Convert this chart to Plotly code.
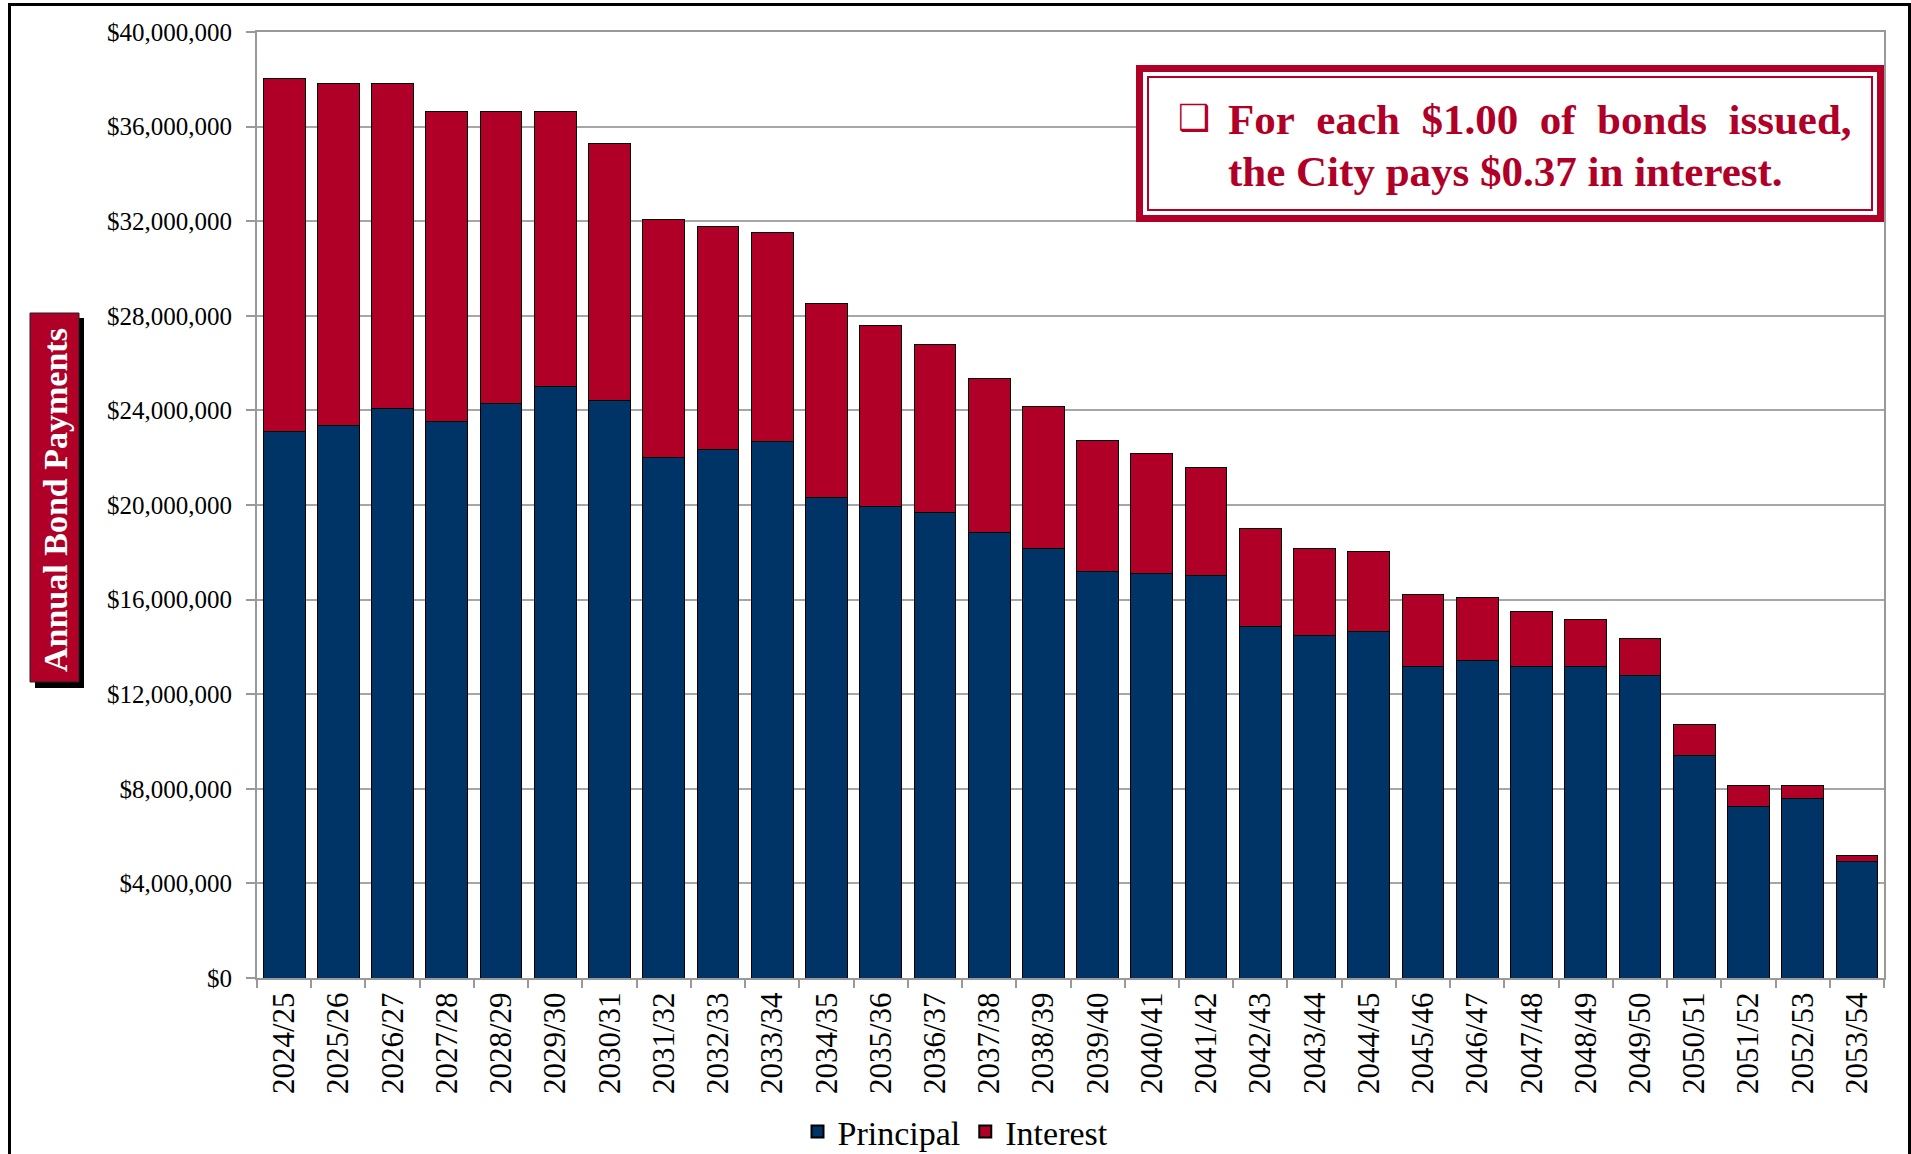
import plotly.graph_objects as go

# ---------------- data ----------------
fiscal_years = ["2024/25", "2025/26", "2026/27", "2027/28", "2028/29", "2029/30",
                "2030/31", "2031/32", "2032/33", "2033/34", "2034/35", "2035/36",
                "2036/37", "2037/38", "2038/39", "2039/40", "2040/41", "2041/42",
                "2042/43", "2043/44", "2044/45", "2045/46", "2046/47", "2047/48",
                "2048/49", "2049/50", "2050/51", "2051/52", "2052/53", "2053/54"]

principal = [23_120_000, 23_370_000, 24_060_000, 23_550_000, 24_280_000, 25_020_000,
             24_430_000, 22_020_000, 22_340_000, 22_680_000, 20_330_000, 19_940_000,
             19_700_000, 18_820_000, 18_180_000, 17_200_000, 17_110_000, 17_010_000,
             14_880_000, 14_470_000, 14_670_000, 13_180_000, 13_440_000, 13_180_000,
             13_180_000, 12_770_000, 9_420_000, 7_260_000, 7_570_000, 4_940_000]

interest = [14_920_000, 14_470_000, 13_780_000, 13_070_000, 12_340_000, 11_600_000,
            10_850_000, 10_060_000, 9_440_000, 8_830_000, 8_170_000, 7_630_000,
            7_080_000, 6_510_000, 5_990_000, 5_510_000, 5_060_000, 4_580_000,
            4_120_000, 3_700_000, 3_350_000, 3_040_000, 2_670_000, 2_320_000,
            1_960_000, 1_590_000, 1_290_000, 870_000, 560_000, 260_000]

y_ticks = [0, 4_000_000, 8_000_000, 12_000_000, 16_000_000, 20_000_000,
           24_000_000, 28_000_000, 32_000_000, 36_000_000, 40_000_000]

# ---------------- styling ----------------
W, H = 1911, 1154
PL, PR, PT, PB = 257, 1884, 32, 978          # plot area in pixels
NAVY = "#003366"
RED = "#B00028"
GRID = "#a6a6a6"
FONT = "Liberation Serif, Times New Roman, serif"


def px_x(px):
    return (px - PL) / (PR - PL)


def px_y(py):
    return (PB - py) / (PB - PT)


fig = go.Figure()
fig.add_trace(go.Bar(x=fiscal_years, y=principal, name="Principal",
                     marker=dict(color=NAVY, line=dict(color="#000000", width=1))))
fig.add_trace(go.Bar(x=fiscal_years, y=interest, name="Interest",
                     marker=dict(color=RED, line=dict(color="#000000", width=1))))

shapes = [
    # outer frame
    dict(type="rect", xref="paper", yref="paper",
         x0=px_x(9.5), x1=px_x(1909.5), y0=px_y(1200), y1=px_y(4.5),
         line=dict(color="#000000", width=3), fillcolor="rgba(0,0,0,0)", layer="below"),
    # y label shadow + box
    dict(type="rect", xref="paper", yref="paper",
         x0=px_x(35), x1=px_x(84), y0=px_y(688), y1=px_y(318),
         line=dict(width=0), fillcolor="#000000"),
    dict(type="rect", xref="paper", yref="paper",
         x0=px_x(30), x1=px_x(79), y0=px_y(682), y1=px_y(313),
         line=dict(color="#222222", width=1), fillcolor=RED),
    # callout box: white fill, thick outer border, thin inner border
    dict(type="rect", xref="paper", yref="paper",
         x0=px_x(1139.5), x1=px_x(1880.5), y0=px_y(218.5), y1=px_y(68.5),
         line=dict(color=RED, width=7), fillcolor="#ffffff"),
    dict(type="rect", xref="paper", yref="paper",
         x0=px_x(1148), x1=px_x(1872), y0=px_y(210), y1=px_y(77),
         line=dict(color=RED, width=2), fillcolor="rgba(0,0,0,0)"),
]

NB = "\u00a0"
line1 = f"For{NB} each{NB} $1.00{NB} of{NB} bonds{NB} issued,"
line2 = "the City pays $0.37 in interest."

annotations = [
    dict(text="<b>Annual Bond Payments</b>", xref="paper", yref="paper",
         x=px_x(55), y=px_y(500), xanchor="center", yanchor="middle",
         textangle=-90, showarrow=False,
         font=dict(family=FONT, size=34, color="#ffffff")),
    dict(text="<b>❑</b>", xref="paper", yref="paper",
         x=px_x(1176), y=px_y(117), xanchor="left", yanchor="middle",
         showarrow=False, font=dict(family="DejaVu Sans", size=36, color=RED)),
    dict(text=f"<b>{line1}</b>", xref="paper", yref="paper",
         x=px_x(1226), y=px_y(119), xanchor="left", yanchor="middle",
         showarrow=False, font=dict(family=FONT, size=43, color=RED)),
    dict(text=f"<b>{line2}</b>", xref="paper", yref="paper",
         x=px_x(1226), y=px_y(171), xanchor="left", yanchor="middle",
         showarrow=False, font=dict(family=FONT, size=43, color=RED)),
]

fig.update_layout(
    width=W, height=H, autosize=False,
    margin=dict(l=PL, r=W - PR, t=PT, b=H - PB, pad=0, autoexpand=False),
    paper_bgcolor="#ffffff", plot_bgcolor="#ffffff",
    barmode="stack", bargap=0.23,
    font=dict(family=FONT, color="#000000"),
    showlegend=True,
    legend=dict(orientation="h", traceorder="normal",
                xref="container", yref="container",
                x=0.5, xanchor="center", y=1 - 1132 / H, yanchor="middle",
                font=dict(family=FONT, size=34, color="#000000"),
                itemsizing="constant", bgcolor="rgba(0,0,0,0)"),
    shapes=shapes,
    annotations=annotations,
)

fig.update_xaxes(
    type="category", showgrid=False, showline=True, linecolor="#999999", linewidth=2,
    mirror=True, ticks="outside", tickson="boundaries", ticklen=8, tickwidth=2,
    tickcolor="#999999", tickangle=-90, automargin=False,
    tickfont=dict(family=FONT, size=31, color="#000000"),
)
fig.update_yaxes(
    range=[0, 40_000_000], tickvals=y_ticks, tickformat="$,.0f",
    showgrid=True, gridcolor=GRID, gridwidth=2, zeroline=False,
    showline=True, linecolor="#999999", linewidth=2, mirror=True,
    ticks="outside", ticklen=9, tickwidth=2, tickcolor="#999999",
    ticklabelstandoff=9, automargin=False,
    tickfont=dict(family=FONT, size=25, color="#000000"),
)

fig.write_html("out.html")
